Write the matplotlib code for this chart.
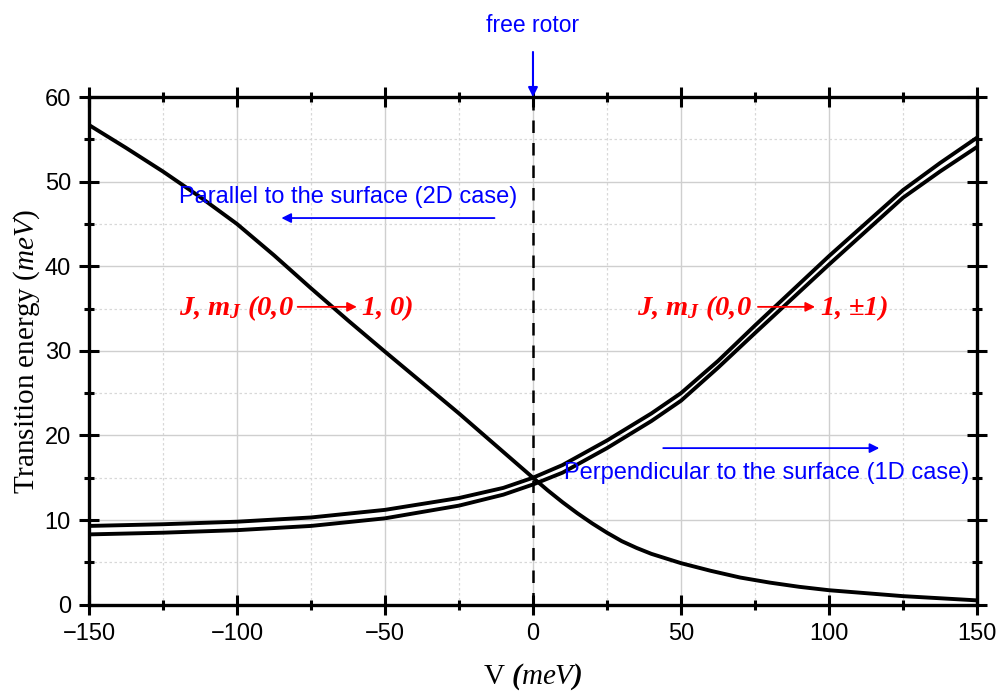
"""Rotor transition energies vs barrier height V: 2D (parallel) and 1D (perpendicular) cases."""
import numpy as np
import matplotlib; matplotlib.use("Agg"); import matplotlib.pyplot as plt
from matplotlib.ticker import MultipleLocator

plt.rcParams["mathtext.fontset"] = "custom"
plt.rcParams["mathtext.rm"] = "Liberation Serif"
plt.rcParams["mathtext.it"] = "Liberation Serif:italic"
plt.rcParams["mathtext.bf"] = "Liberation Serif:italic:bold"

# values
V_par = [-150, -137.5, -125, -112.5, -100, -87.5, -75, -62.5, -50, -25, 0, 5, 10, 15, 20, 25, 30, 35, 40,
         50, 60, 70, 80, 90, 100, 125, 150]
E_par = [56.7, 54.0, 51.2, 48.2, 45.0, 41.3, 37.4, 33.6, 29.9, 22.6, 15.0, 13.5, 12.1, 10.8, 9.6, 8.5, 7.5, 6.7, 6.0,
         4.9, 4.0, 3.2, 2.6, 2.1, 1.7, 1.0, 0.5]

V_perp = [-150, -125, -100, -75, -50, -25, -10, 0, 10, 25, 40, 50, 62.5, 75, 100, 125, 137.5, 150]
E_perp_hi = [9.3, 9.5, 9.8, 10.3, 11.2, 12.6, 13.8, 15.0, 16.5, 19.4, 22.6, 25.0, 28.8, 33.0, 41.2, 49.0, 52.2, 55.2]
E_perp_lo = [8.3, 8.5, 8.8, 9.3, 10.2, 11.7, 13.0, 14.2, 15.6, 18.5, 21.7, 24.1, 28.0, 32.1, 40.2, 48.1, 51.2, 54.1]

SANS = "Liberation Sans"
RED = "#ff0000"; BLUE = "#0000ff"

fig = plt.figure(figsize=(10.01, 6.92), dpi=100)
ax = fig.add_axes([0.0889, 0.1263, 0.8871, 0.7334])

ax.plot(V_par, E_par, "-", color="black", lw=2.8, zorder=4)
ax.plot(V_perp, E_perp_hi, "-", color="black", lw=2.8, zorder=4)
ax.plot(V_perp, E_perp_lo, "-", color="black", lw=2.8, zorder=4)
ax.axvline(0, color="black", ls=(0, (5, 4)), lw=1.8, zorder=3)

ax.set_xlim(-150, 150); ax.set_ylim(0, 60)
ax.xaxis.set_major_locator(MultipleLocator(50)); ax.xaxis.set_minor_locator(MultipleLocator(25))
ax.yaxis.set_major_locator(MultipleLocator(10)); ax.yaxis.set_minor_locator(MultipleLocator(5))
ax.grid(True, which="major", color="#cfcfcf", lw=1.0, zorder=0)
ax.grid(True, which="minor", color="#d8d8d8", lw=0.9, ls=(0, (2, 2)), zorder=0)
ax.tick_params(which="both", direction="inout", top=True, right=True, width=2.2, labelsize=17, pad=6)
ax.tick_params(which="major", length=14)
ax.tick_params(which="minor", length=7)
for lab in ax.get_xticklabels() + ax.get_yticklabels():
    lab.set_fontfamily(SANS)
for s in ax.spines.values():
    s.set_linewidth(2.4)

ax.set_xlabel(r"V $\mathbf{(}\mathit{meV}\mathbf{)}$", family="Liberation Serif", fontsize=21, labelpad=12)
ax.set_ylabel(r"Transition energy $(\mathit{meV})$", family="Liberation Serif", fontsize=21, labelpad=2)

# blue annotations
ax.annotate("free rotor", xy=(0, 60), xytext=(0, 68.5), ha="center", va="center", color=BLUE,
            family=SANS, fontsize=16.5, annotation_clip=False,
            arrowprops=dict(arrowstyle="-|>", color=BLUE, lw=1.5, shrinkA=9, shrinkB=0, mutation_scale=14))
ax.text(-119.5, 48.2, "Parallel to the surface (2D case)", color=BLUE, family=SANS, fontsize=17, va="center", zorder=5)
ax.annotate("", xy=(-85, 45.7), xytext=(-13, 45.7),
            arrowprops=dict(arrowstyle="-|>", color=BLUE, lw=1.3, shrinkA=0, shrinkB=0, mutation_scale=14))
ax.text(10.5, 15.6, "Perpendicular to the surface (1D case)", color=BLUE, family=SANS, fontsize=17, va="center", zorder=5)
ax.annotate("", xy=(117, 18.5), xytext=(44, 18.5),
            arrowprops=dict(arrowstyle="-|>", color=BLUE, lw=1.3, shrinkA=0, shrinkB=0, mutation_scale=14))

# red transition labels
for x0, xa0, xa1, x1, tail in [(-119.5, -79.5, -59.5, -58, r"$\mathbf{1{,}\ 0)}$"),
                               (35, 76, 95.3, 97, r"$\mathbf{1{,}\ {\pm}1)}$")]:
    ax.text(x0, 35.0, r"$\mathbf{J{,}\ m_J\ (0{,}0}$", color=RED, fontsize=20.5, va="center", zorder=6)
    ax.annotate("", xy=(xa1, 35.2), xytext=(xa0, 35.2),
                arrowprops=dict(arrowstyle="-|>", color=RED, lw=1.3, shrinkA=0, shrinkB=0, mutation_scale=14),
                zorder=6)
    ax.text(x1, 35.0, tail, color=RED, fontsize=20.5, va="center", zorder=6)

fig.savefig("out.png", dpi=100)
